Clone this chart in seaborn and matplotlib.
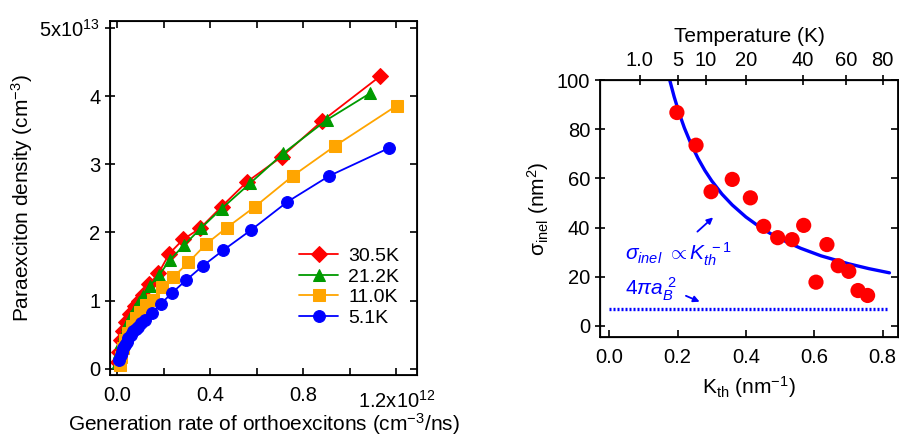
import numpy as np
import pandas as pd
import seaborn as sns
import matplotlib.pyplot as plt

sns.set_style("ticks")
plt.rcParams['font.family'] = ['Liberation Sans', 'DejaVu Sans']
plt.rcParams['mathtext.fontset'] = 'custom'
plt.rcParams['mathtext.rm'] = 'Liberation Sans'
plt.rcParams['mathtext.it'] = 'Liberation Sans:italic'
plt.rcParams['mathtext.bf'] = 'Liberation Sans:bold'
for key in ['text.color', 'axes.labelcolor', 'xtick.color', 'ytick.color', 'axes.edgecolor']:
    plt.rcParams[key] = 'black'

# left panel: generation rate (1e12 cm^-3/ns) vs paraexciton density (1e13 cm^-3)
x_305 = [0.003, 0.008, 0.016, 0.026, 0.040, 0.057, 0.076, 0.095, 0.113, 0.139, 0.178, 0.225, 0.285, 0.357, 0.450, 0.558, 0.708, 0.880, 1.131]
y_305 = [0.10, 0.25, 0.42, 0.56, 0.69, 0.81, 0.92, 1.00, 1.08, 1.24, 1.40, 1.69, 1.90, 2.06, 2.38, 2.74, 3.11, 3.63, 4.29]
x_212 = [0.004, 0.010, 0.018, 0.028, 0.042, 0.058, 0.077, 0.096, 0.113, 0.142, 0.182, 0.228, 0.290, 0.360, 0.450, 0.572, 0.715, 0.902, 1.088]
y_212 = [0.10, 0.24, 0.40, 0.53, 0.66, 0.78, 0.88, 0.98, 1.07, 1.22, 1.38, 1.60, 1.82, 2.06, 2.35, 2.72, 3.16, 3.65, 4.04]
x_110 = [0.013, 0.018, 0.025, 0.035, 0.048, 0.063, 0.080, 0.100, 0.123, 0.153, 0.192, 0.240, 0.307, 0.383, 0.472, 0.594, 0.756, 0.938, 1.203]
y_110 = [0.05, 0.18, 0.30, 0.42, 0.53, 0.63, 0.74, 0.84, 0.93, 1.01, 1.20, 1.34, 1.56, 1.83, 2.07, 2.38, 2.83, 3.27, 3.86]
x_51 = [0.009, 0.015, 0.020, 0.027, 0.034, 0.041, 0.049, 0.059, 0.070, 0.081, 0.092, 0.105, 0.120, 0.150, 0.188, 0.235, 0.297, 0.369, 0.457, 0.578, 0.733, 0.913, 1.171]
y_51 = [0.13, 0.20, 0.25, 0.30, 0.35, 0.40, 0.45, 0.50, 0.55, 0.59, 0.62, 0.67, 0.71, 0.82, 0.95, 1.11, 1.30, 1.51, 1.74, 2.04, 2.45, 2.83, 3.24]

# right panel: inelastic cross section vs thermal wavevector
k_th = [0.198, 0.254, 0.298, 0.360, 0.413, 0.452, 0.493, 0.535, 0.569, 0.605, 0.637, 0.670, 0.701, 0.728, 0.756]
sigma = [86.8, 73.5, 54.6, 59.6, 52.1, 40.5, 35.9, 35.1, 40.9, 17.8, 33.1, 24.5, 22.2, 14.4, 12.4]
# fit curve
k_fit = [0.177, 0.19, 0.205, 0.22, 0.24, 0.26, 0.28, 0.30, 0.33, 0.36, 0.40, 0.45, 0.50, 0.56, 0.62, 0.70, 0.76, 0.82]
s_fit = [100, 93.2, 86.4, 80.5, 73.8, 68.1, 63.2, 59.0, 53.6, 49.2, 44.3, 39.3, 35.4, 31.6, 28.5, 25.3, 23.3, 21.6]
k_bohr = [0.0, 0.82]
s_bohr = [6.9, 6.9]
temp_ticks = [1.0, 5, 10, 20, 40, 60, 80]
temp_labels = ['1.0', '5', '10', '20', '40', '60', '80']

fig = plt.figure(figsize=(8.99, 4.37), dpi=100)
ax1 = fig.add_axes([0.1224, 0.1419, 0.3415, 0.810])
ax2 = fig.add_axes([0.6674, 0.2288, 0.3315, 0.588])

series = [
    ('30.5K', x_305, y_305, 'red', 'D', 8),
    ('21.2K', x_212, y_212, '#009a00', '^', 9),
    ('11.0K', x_110, y_110, 'orange', 's', 8),
    ('5.1K', x_51, y_51, 'blue', 'o', 8.5),
]
for lab, xs, ys, col, mk, ms in series:
    sns.lineplot(x=xs, y=ys, ax=ax1, color=col, marker=mk, markersize=ms,
                 markeredgecolor=col, linewidth=1.3, label=lab, sort=False)

ax1.set_xlim(-0.03, 1.29)
ax1.set_ylim(-0.09, 5.1)
ax1.set_xticks(np.arange(0, 1.21, 0.2))
ax1.set_xticklabels(['0.0', '', '0.4', '', '0.8', '', ''])
ax1.set_yticks([0, 1, 2, 3, 4, 5])
ax1.set_yticklabels(['0', '1', '2', '3', '4', r'5x10$^{13}$'])
ax1.text(1.035, -0.072, r'1.2x10$^{12}$', transform=ax1.get_xaxis_transform(),
         ha='left', va='center', fontsize=14.5)
ax1.tick_params(axis='x', direction='in', top=True, length=5, width=1.2, labelsize=14.5, pad=8)
ax1.tick_params(axis='y', direction='inout', length=7, width=1.2, labelsize=14.5)
ax1.set_xlabel(r'Generation rate of orthoexcitons (cm$^{-3}$/ns)', fontsize=15, labelpad=4.5)
ax1.set_ylabel(r'Paraexciton density (cm$^{-3}$)', fontsize=15)
ax1.yaxis.set_label_coords(-0.245, 0.5)
ax1.legend(loc='upper left', bbox_to_anchor=(0.56, 0.41), frameon=False, fontsize=14,
           handlelength=2.0, labelspacing=0.15, handletextpad=0.5)
for sp in ax1.spines.values():
    sp.set_linewidth(1.3)

# mirrored ticks on the right spine of the left panel
ax1r = ax1.twinx()
ax1r.set_ylim(ax1.get_ylim())
ax1r.set_yticks([0, 1, 2, 3, 4, 5])
ax1r.tick_params(axis='y', direction='in', length=5, width=1.2, labelright=False)

# right panel
sns.lineplot(x=k_fit, y=s_fit, ax=ax2, color='blue', linewidth=2.4, sort=False)
sns.lineplot(x=k_bohr, y=s_bohr, ax=ax2, color='blue', linewidth=2.4, linestyle=(0, (0.6, 0.6)))
sns.scatterplot(x=k_th, y=sigma, ax=ax2, color='red', s=120, edgecolor='none', zorder=3)
ax2.set_xlim(-0.027, 0.845)
ax2.set_ylim(-4.5, 100)
ax2.set_xticks([0.0, 0.2, 0.4, 0.6, 0.8])
ax2.set_xticklabels(['0.0', '0.2', '0.4', '0.6', '0.8'])
ax2.set_yticks([0, 20, 40, 60, 80, 100])
ax2.tick_params(axis='x', direction='in', length=5, width=1.2, labelsize=14.5, pad=8)
ax2.tick_params(axis='y', direction='inout', length=7, width=1.2, labelsize=14.5)
ax2.set_xlabel(r'K$_{\rm th}$ (nm$^{-1}$)', fontsize=15, labelpad=5)
ax2.set_ylabel(r'$\mathrm{\sigma_{inel}}$ (nm$^{2}$)', fontsize=15, labelpad=4)
for sp in ax2.spines.values():
    sp.set_linewidth(1.3)

ax2r = ax2.twinx()
ax2r.set_ylim(ax2.get_ylim())
ax2r.set_yticks([0, 20, 40, 60, 80, 100])
ax2r.tick_params(axis='y', direction='in', length=5, width=1.2, labelright=False)

# top temperature axis, K_th proportional to sqrt(T)
c = 0.2 / np.sqrt(5.0)
ax2t = ax2.twiny()
ax2t.set_xlim(ax2.get_xlim())
ax2t.set_xticks(c * np.sqrt(np.array(temp_ticks)))
ax2t.set_xticklabels(temp_labels)
ax2t.tick_params(axis='x', direction='inout', length=7, width=1.2, labelsize=14.5, pad=4)
ax2t.set_xlabel('Temperature (K)', fontsize=15, labelpad=6)

ax2.text(0.047, 29, r'$\sigma_{inel}\ \propto K_{th}^{\ -1}$', color='blue',
         fontsize=15, ha='left', va='center')
ax2.text(0.047, 15, r'$4\pi a_{B}^{\ 2}$', color='blue', fontsize=15, ha='left', va='center')
ax2.annotate('', xy=(0.310, 44.9), xytext=(0.252, 37.6),
             arrowprops=dict(arrowstyle='-|>', color='blue', lw=1.3, mutation_scale=9))
ax2.annotate('', xy=(0.272, 9.4), xytext=(0.217, 12.7),
             arrowprops=dict(arrowstyle='-|>', color='blue', lw=1.3, mutation_scale=9))

fig.savefig('out.png', dpi=100)
